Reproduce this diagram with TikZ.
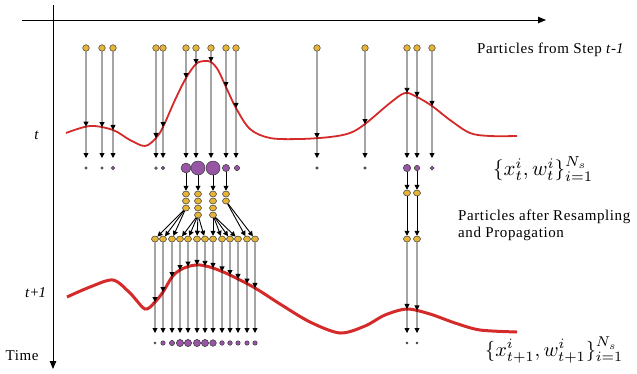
\documentclass[tikz,border=0pt]{standalone}
\usepackage{fontspec}
\usepackage{graphicx}
\setmainfont{Liberation Serif}
\newfontfamily\lblfont[LetterSpace=4]{Liberation Serif}
\usetikzlibrary{arrows.meta,intersections,shapes.geometric}
\definecolor{pyel}{RGB}{230,180,55}
\definecolor{ppur}{RGB}{150,85,165}
\definecolor{cred}{RGB}{212,42,42}
\definecolor{pedge}{RGB}{60,60,60}
\tikzset{
  axisarr/.style={line width=0.9pt, -{Triangle[length=8pt,width=6.5pt]}},
  arr/.style={line width=0.9pt, -{Triangle[length=5pt,width=5pt]}},
  ypart/.style={circle, inner sep=0pt, minimum size=6.6pt, fill=pyel, draw=pedge, line width=0.5pt},
  rpart/.style={ellipse, inner sep=0pt, minimum width=7pt, minimum height=6pt, fill=pyel, draw=pedge, line width=0.5pt},
  wdot/.style={circle, inner sep=0pt, fill=ppur, draw=pedge, line width=0.5pt},
  lbl/.style={font=\lblfont\fontsize{15}{16}\selectfont, inner sep=0pt},
}
\begin{document}
\begin{tikzpicture}[x=1pt,y=-1pt]
\useasboundingbox (0,0) rectangle (637,373);

% axes
\coordinate (hx0) at (22,20); \coordinate (hx1) at (546,20);
\coordinate (vy0) at (53,5);  \coordinate (vy1) at (53,369);
\draw[axisarr] (hx0) -- (hx1);
\draw[axisarr] (vy0) -- (vy1);

% axis labels
\node[lbl, anchor=base] (lt) at (37,139) {\textit{t}};
\node[lbl, anchor=base] (lt1) at (36,297) {\textit{t}+\textit{1}};
\node[lbl, anchor=base] (ltime) at (22,360) {Time};

% likelihood curves
\draw[cred, line width=1.8pt, name path=c1] plot[smooth, tension=0.55] coordinates {
 (66,133) (90,126) (113,130) (130,140) (145,146) (156,138) (163,127) (175,100)
 (186,78) (196,64) (204,61) (211,62) (218,70) (226,87) (236,108) (250,129)
 (270,138) (300,139) (330,137) (350,133) (365,124) (390,103) (405,93) (417,97)
 (432,106) (450,120) (470,133) (490,136) (517,136)};
\draw[cred, line width=3pt, name path=c2] plot[smooth, tension=0.5] coordinates {
 (67,297) (90,287) (113,280) (130,293) (145,309) (155,302) (163,292) (172,277)
 (180,270) (190,266) (200,265) (213,268) (230,275) (255,288) (280,304) (310,322)
 (340,333) (365,326) (385,315) (407,309) (430,314) (455,323) (480,330) (517,332)};

% particles from step t-1
\foreach \x [count=\i] in {86,102,113,156,163,186,196,211,226,236,317,365,407,417,432} {
  \node[ypart] (p\i) at (\x,48) {};
  \path[name path=v] (\x,40) -- (\x,170);
  \path[name intersections={of=c1 and v, by=q\i}];
  \coordinate (b\i) at (\x,158);
  \draw[arr] (p\i) -- (q\i);
  \draw[arr] (q\i) -- (b\i);
}

% weighted particles at t
\foreach \x/\r [count=\i] in {86/1.2,102/1.2,113/1.7,156/1.4,163/1.7,186/5,198/7,213/7,226/3.6,237/2.6,317/1.3,365/1.3,407/3.7,417/2.7,432/1.9} {
  \node[wdot, minimum size={2*\r*1pt}] (w\i) at (\x,168) {};
}

% resampled columns
\foreach \c/\x/\n/\w in {1/186/3/w6, 2/198/4/w7, 3/213/4/w8, 4/226/2/w9} {
  \foreach \k in {1,...,\n} { \node[rpart] (r\c-\k) at (\x,{194+7*(\k-1)}) {}; }
  \draw[arr] (\w) -- (r\c-1);
}
\node[rpart] (k1) at (407,193) {};
\node[rpart] (k2) at (417,193) {};
\draw[arr] (w13) -- (k1);
\draw[arr] (w14) -- (k2);

% propagated particles
\foreach \x [count=\i] in {155,163,172,180,188,197,205,213,222,230,238,247,255} {
  \node[rpart] (s\i) at (\x,239) {};
}
\node[rpart] (m1) at (407,239) {};
\node[rpart] (m2) at (417,239) {};
\draw[arr] (k1) -- (m1);
\draw[arr] (k2) -- (m2);

\foreach \s in {1,2,3} \draw[arr] (r1-3) -- (s\s);
\foreach \s in {4,...,7} \draw[arr] (r2-4) -- (s\s);
\foreach \s in {8,...,11} \draw[arr] (r3-4) -- (s\s);
\foreach \s in {12,13} \draw[arr] (r4-2) -- (s\s);

% propagation through t+1 likelihood
\foreach \n/\x/\r in {s1/155/1.1, s2/163/2.2, s3/172/2.6, s4/180/3.6, s5/188/3.6, s6/197/3.6, s7/205/3.6, s8/213/3.3, s9/222/2.3, s10/230/2.3, s11/238/2.2, s12/247/2.2, s13/255/2.2, m1/407/1.1, m2/417/1.1} {
  \path[name path=v] (\x,230) -- (\x,345);
  \path[name intersections={of=c2 and v, by=u-\n}];
  \coordinate (e-\n) at (\x,333);
  \draw[arr] (\n) -- (u-\n);
  \draw[arr] (u-\n) -- (e-\n);
  \node[wdot, minimum size={2*\r*1pt}] (d-\n) at (\x,343) {};
}

% labels
\node[lbl, anchor=base west] (l1) at (477,53) {Particles from Step \textit{t}-\textit{1}};
\node[lbl, anchor=base west] (l2) at (458,220) {Particles after Resampling};
\node[lbl, anchor=base west] (l3) at (458,237) {and Propagation};
\node[inner sep=0pt, anchor=west] (m1lbl) at (493,169) {\resizebox{100pt}{!}{$\{x_t^i, w_t^i\}_{i=1}^{N_s}$}};
\node[inner sep=0pt, anchor=west] (m2lbl) at (485,350) {\resizebox{138pt}{!}{$\{x_{t+1}^i, w_{t+1}^i\}_{i=1}^{N_s}$}};
\end{tikzpicture}
\end{document}
